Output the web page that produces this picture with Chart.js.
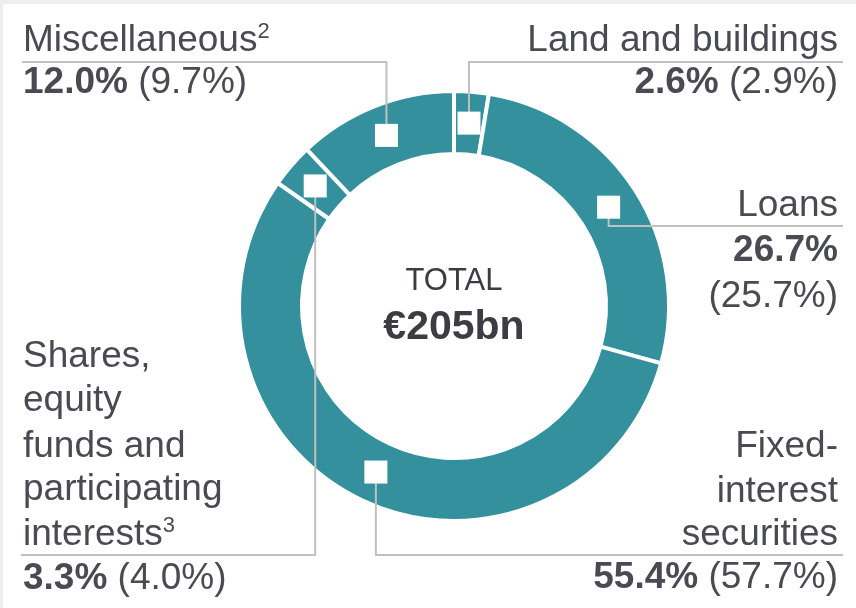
<!DOCTYPE html>
<html>
<head>
<meta charset="utf-8">
<script src="https://cdn.jsdelivr.net/npm/chart.js@4.4.1/dist/chart.umd.min.js"></script>
<style>
  html, body { margin: 0; padding: 0; background: #fff; }
  #wrap { width: 856px; height: 608px; }
</style>
</head>
<body>
<div id="wrap"><canvas id="chart" width="856" height="608"></canvas></div>
<script>
// Data (clockwise from 12 o'clock)
const categories = ['Land and buildings', 'Loans', 'Fixed-interest securities',
    'Shares, equity funds and participating interests', 'Miscellaneous'];
const shareNow = [2.6, 26.7, 55.4, 3.3, 12.0];
const sharePrev = [2.9, 25.7, 57.7, 4.0, 9.7];
const nameLines = [
    ['Land and buildings'],
    ['Loans'],
    ['Fixed-', 'interest', 'securities'],
    ['Shares,', 'equity', 'funds and', 'participating', 'interests'],
    ['Miscellaneous']
];
const footnotes = ['', '', '', '3', '2'];
const centerTitle = 'TOTAL';
const centerValue = '€205bn';

// Colours / fonts
const teal = '#33909c';
const textColor = '#4a4a52';
const leaderColor = '#c0c0c0';
const family = '"Liberation Sans", Arial, Helvetica, sans-serif';

// Label placement (baselines, anchor x, leader line y / end)
const labelLayout = [
    { align: 'right', x: 838, lineY: 62, lineTo: 843, name: [51], value: [93] },
    { align: 'right', x: 838, lineY: 226, lineTo: 843, name: [216], value: [261, 307] },
    { align: 'right', x: 838, lineY: 555, lineTo: 843, name: [457, 502, 545], value: [588] },
    { align: 'left', x: 23, lineY: 555, lineTo: 21, name: [367, 411, 457, 500, 545], value: [589] },
    { align: 'left', x: 23, lineY: 62, lineTo: 22, name: [51], value: [93] }
];

function drawRuns(ctx, runs, x, y, align) {
    let total = 0;
    runs.forEach(r => { ctx.font = r.font; total += ctx.measureText(r.text).width; });
    let cx = align === 'right' ? x - total : x;
    runs.forEach(r => {
        ctx.font = r.font;
        ctx.textAlign = 'left';
        ctx.fillText(r.text, cx, y + (r.dy || 0));
        cx += ctx.measureText(r.text).width;
    });
}

const regular = `37px ${family}`;
const bold = `bold 37px ${family}`;
const sup = `22px ${family}`;

const backgroundPlugin = {
    id: 'frame',
    beforeDraw(chart) {
        const ctx = chart.ctx;
        ctx.save();
        ctx.fillStyle = '#ffffff';
        ctx.fillRect(0, 0, chart.width, chart.height);
        ctx.fillStyle = '#eeeeee';
        ctx.fillRect(0, 0, chart.width, 4);
        ctx.fillRect(0, 0, 3, chart.height);
        ctx.restore();
    }
};

const labelsPlugin = {
    id: 'labels',
    afterDatasetsDraw(chart) {
        const ctx = chart.ctx;
        const arcs = chart.getDatasetMeta(0).data;
        ctx.save();

        // leader lines
        ctx.strokeStyle = leaderColor;
        ctx.lineWidth = 2;
        arcs.forEach((arc, i) => {
            const p = arc.getCenterPoint();
            const lay = labelLayout[i];
            ctx.beginPath();
            ctx.moveTo(p.x, p.y);
            ctx.lineTo(p.x, lay.lineY);
            ctx.lineTo(lay.lineTo, lay.lineY);
            ctx.stroke();
        });

        // white square markers
        ctx.fillStyle = '#ffffff';
        arcs.forEach(arc => {
            const p = arc.getCenterPoint();
            ctx.fillRect(p.x - 11.5, p.y - 11.5, 23, 23);
        });

        // labels
        ctx.fillStyle = textColor;
        ctx.textBaseline = 'alphabetic';
        arcs.forEach((arc, i) => {
            const lay = labelLayout[i];
            nameLines[i].forEach((line, k) => {
                const runs = [{ text: line, font: regular }];
                if (k === nameLines[i].length - 1 && footnotes[i]) {
                    runs.push({ text: footnotes[i], font: sup, dy: -13 });
                }
                drawRuns(ctx, runs, lay.x, lay.name[k], lay.align);
            });
            const now = shareNow[i].toFixed(1) + '%';
            const prev = '(' + sharePrev[i].toFixed(1) + '%)';
            if (lay.value.length > 1) {
                drawRuns(ctx, [{ text: now, font: bold }], lay.x, lay.value[0], lay.align);
                drawRuns(ctx, [{ text: prev, font: regular }], lay.x, lay.value[1], lay.align);
            } else {
                drawRuns(ctx, [{ text: now, font: bold }, { text: ' ' + prev, font: regular }],
                    lay.x, lay.value[0], lay.align);
            }
        });

        // centre text
        const c = arcs[0];
        ctx.fillStyle = '#3c3c42';
        ctx.textAlign = 'center';
        ctx.font = `31px ${family}`;
        ctx.fillText(centerTitle, c.x, 290);
        ctx.font = `bold 41px ${family}`;
        ctx.fillText(centerValue, c.x, 339);

        ctx.restore();
    }
};

new Chart(document.getElementById('chart').getContext('2d'), {
    type: 'doughnut',
    data: {
        labels: categories,
        datasets: [{
            data: shareNow,
            backgroundColor: teal,
            borderColor: '#ffffff',
            borderWidth: 4,
            hoverOffset: 0
        }]
    },
    options: {
        responsive: false,
        animation: false,
        events: [],
        cutout: '70.7%',
        layout: { padding: { top: 89, bottom: 85, left: 237, right: 185 } },
        plugins: {
            legend: { display: false },
            tooltip: { enabled: false }
        }
    },
    plugins: [backgroundPlugin, labelsPlugin]
});
</script>
</body>
</html>
